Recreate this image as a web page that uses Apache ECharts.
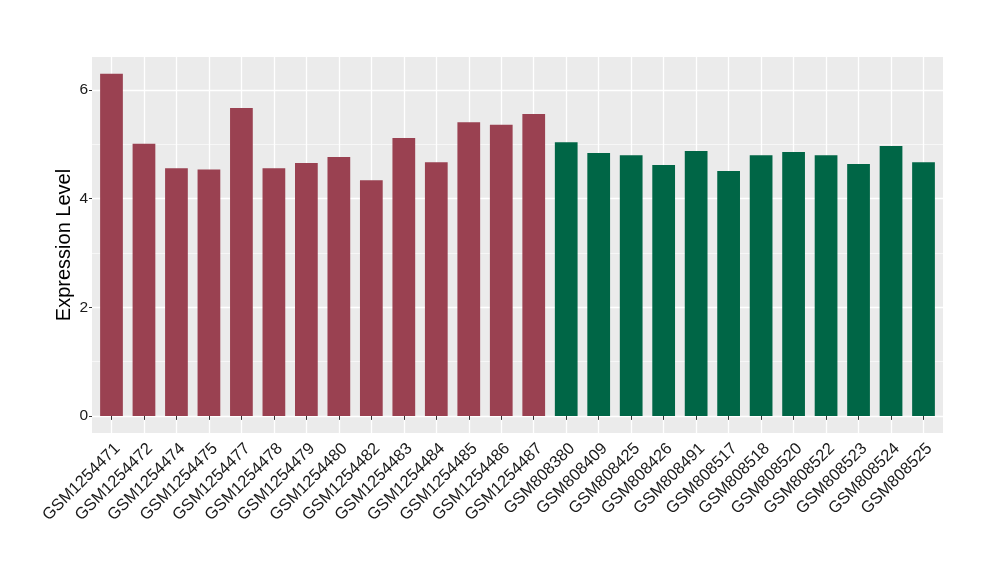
<!DOCTYPE html>
<html>
<head>
<meta charset="utf-8">
<script src="https://cdn.jsdelivr.net/npm/echarts@6/dist/echarts.min.js"></script>
<style>html,body{margin:0;padding:0;background:#fff}#c{width:1000px;height:580px}</style>
</head>
<body>
<div id="c"></div>
<script>
const categories = ["GSM1254471","GSM1254472","GSM1254474","GSM1254475","GSM1254477","GSM1254478","GSM1254479","GSM1254480","GSM1254482","GSM1254483","GSM1254484","GSM1254485","GSM1254486","GSM1254487","GSM808380","GSM808409","GSM808425","GSM808426","GSM808491","GSM808517","GSM808518","GSM808520","GSM808522","GSM808523","GSM808524","GSM808525"];
const values = [6.30,5.01,4.56,4.54,5.67,4.56,4.66,4.77,4.34,5.12,4.67,5.41,5.36,5.56,5.04,4.84,4.80,4.62,4.88,4.51,4.80,4.86,4.80,4.64,4.97,4.67];
const groups = ["A","A","A","A","A","A","A","A","A","A","A","A","A","A","B","B","B","B","B","B","B","B","B","B","B","B"];
const groupColors = {A: "#9A4151", B: "#006646"};
const yMajorTicks = [0, 2, 4, 6];
const yMinorTicks = [1, 3, 5];
const yRange = [-0.315, 6.61];
const xRange = [0.4, 26.6];

const positions = categories.map((c, i) => i + 1);
const barData = values.map((v, i) => ({value: [i + 1, v], itemStyle: {color: groupColors[groups[i]]}}));

const chart = echarts.init(document.getElementById('c'), null, {renderer: 'canvas'});
chart.setOption({
  animation: false,
  backgroundColor: '#fff',
  grid: {left: 92, right: 57, top: 57, bottom: 147, show: true, backgroundColor: '#EBEBEB', borderWidth: 0, containLabel: false},
  xAxis: {
    type: 'value', min: xRange[0], max: xRange[1],
    axisLine: {show: false},
    axisTick: {show: true, customValues: positions, length: 4, lineStyle: {color: '#333', width: 1}},
    axisLabel: {customValues: positions, formatter: v => categories[Math.round(v) - 1] || '', rotate: 45, align: 'right', verticalAlign: 'top', margin: 7, fontSize: 16.5, color: '#1a1a1a', fontFamily: 'Liberation Sans, Arial, sans-serif'},
    splitLine: {show: true, lineStyle: {color: '#fff', width: 1.3}}
  },
  yAxis: [{
    type: 'value', min: yRange[0], max: yRange[1],
    name: 'Expression Level', nameLocation: 'middle', nameGap: 18, nameMoveOverlap: false,
    nameTextStyle: {fontSize: 20, color: '#000', fontFamily: 'Liberation Sans, Arial, sans-serif'},
    axisLine: {show: false},
    axisTick: {show: true, customValues: yMajorTicks, length: 3, lineStyle: {color: '#333', width: 1}},
    axisLabel: {customValues: yMajorTicks, margin: 4, fontSize: 15.5, color: '#1a1a1a', fontFamily: 'Liberation Sans, Arial, sans-serif'},
    splitLine: {show: true, lineStyle: {color: '#fff', width: 1.3}}
  }, {
    type: 'value', min: yRange[0], max: yRange[1], position: 'left',
    axisLine: {show: false},
    axisTick: {show: false, customValues: yMinorTicks},
    axisLabel: {show: false},
    splitLine: {show: true, lineStyle: {color: '#fff', width: 0.6}}
  }],
  series: [{
    type: 'bar', data: barData, barWidth: '70%', yAxisIndex: 0
  }]
});
</script>
</body>
</html>
